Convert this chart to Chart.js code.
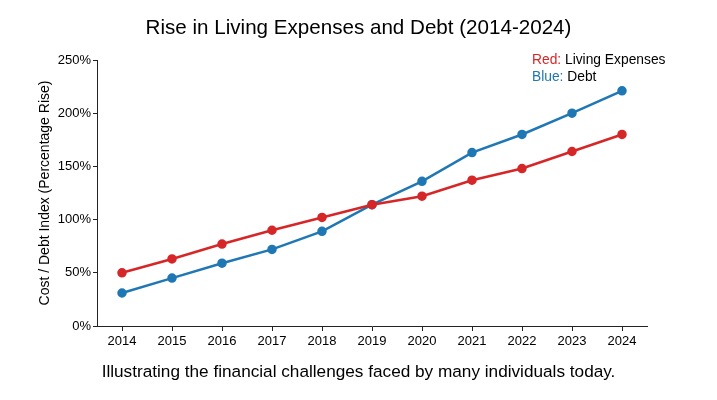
<!DOCTYPE html>
<html lang="en">
<head>
<meta charset="utf-8"/>
<title>Rise in Living Expenses and Debt (2014-2024)</title>
<script src="https://cdn.jsdelivr.net/npm/chart.js"></script>
<style>
  html, body { margin: 0; padding: 0; background: #fff; }
  #wrap { width: 717px; height: 400px; }
</style>
</head>
<body>
<div id="wrap"><canvas id="chart" width="717" height="400"></canvas></div>
<script>
  // data
  const years = ['2014', '2015', '2016', '2017', '2018', '2019', '2020', '2021', '2022', '2023', '2024'];
  const livingExpenses = [50, 63, 77, 90, 102, 114, 122, 137, 148, 164, 180];
  const debt = [31, 45, 59, 72, 89, 114, 136, 163, 180, 200, 221];

  const titleText = 'Rise in Living Expenses and Debt (2014-2024)';
  const captionText = 'Illustrating the financial challenges faced by many individuals today.';
  const yAxisTitle = 'Cost / Debt Index (Percentage Rise)';

  const RED = '#d62728';
  const BLUE = '#1f77b4';
  const FONT = '"Liberation Sans", Arial, Helvetica, sans-serif';

  // title, caption and the coloured text legend
  const textPlugin = {
    id: 'texts',
    afterDraw(chart) {
      const ctx = chart.ctx;
      ctx.save();
      ctx.fillStyle = '#000';
      ctx.textBaseline = 'middle';
      ctx.textAlign = 'center';
      ctx.font = '20.6px ' + FONT;
      ctx.fillText(titleText, chart.width / 2, 28);
      ctx.font = '17.2px ' + FONT;
      ctx.fillText(captionText, chart.width / 2, 372);

      ctx.textAlign = 'left';
      ctx.font = '13.8px ' + FONT;
      const x = 532;
      const rows = [['Red: ', 'Living Expenses', RED, 60], ['Blue: ', 'Debt', BLUE, 77]];
      rows.forEach(([k, label, col, y]) => {
        ctx.fillStyle = col;
        ctx.fillText(k, x, y);
        const w = ctx.measureText(k).width;
        ctx.fillStyle = '#000';
        ctx.fillText(label, x + w, y);
      });
      ctx.restore();
    }
  };

  new Chart(document.getElementById('chart'), {
    type: 'line',
    data: {
      labels: years,
      datasets: [
        {
          label: 'Living Expenses',
          data: livingExpenses,
          borderColor: RED,
          backgroundColor: RED,
          borderWidth: 2.5,
          pointRadius: 3.5,
          pointHoverRadius: 3.5,
          tension: 0
        },
        {
          label: 'Debt',
          data: debt,
          borderColor: BLUE,
          backgroundColor: BLUE,
          borderWidth: 2.5,
          pointRadius: 3.5,
          pointHoverRadius: 3.5,
          tension: 0
        }
      ]
    },
    options: {
      responsive: false,
      animation: false,
      layout: { padding: { top: 60, right: 70, bottom: 44, left: 0 } },
      plugins: {
        legend: { display: false },
        title: { display: false },
        tooltip: { enabled: false }
      },
      scales: {
        x: {
          offset: true,
          afterFit(scale) { scale.height = 30; },
          border: { display: true, color: '#222', width: 1 },
          grid: { display: true, drawOnChartArea: false, drawTicks: true, tickLength: 5, tickColor: '#222', offset: false },
          ticks: { color: '#000', font: { size: 13, family: FONT }, padding: 3, maxRotation: 0 }
        },
        y: {
          min: 0,
          max: 250,
          afterFit(scale) { scale.width = 97; },
          border: { display: true, color: '#222', width: 1 },
          grid: { display: true, drawOnChartArea: false, drawTicks: true, tickLength: 4, tickColor: '#222' },
          ticks: {
            stepSize: 50,
            color: '#000',
            font: { size: 13, family: FONT },
            padding: 2,
            callback: v => v + '%'
          },
          title: {
            display: true,
            text: yAxisTitle,
            color: '#000',
            font: { size: 14, family: FONT },
            padding: { top: 37, bottom: 0 }
          }
        }
      }
    },
    plugins: [textPlugin]
  });
</script>
</body>
</html>
